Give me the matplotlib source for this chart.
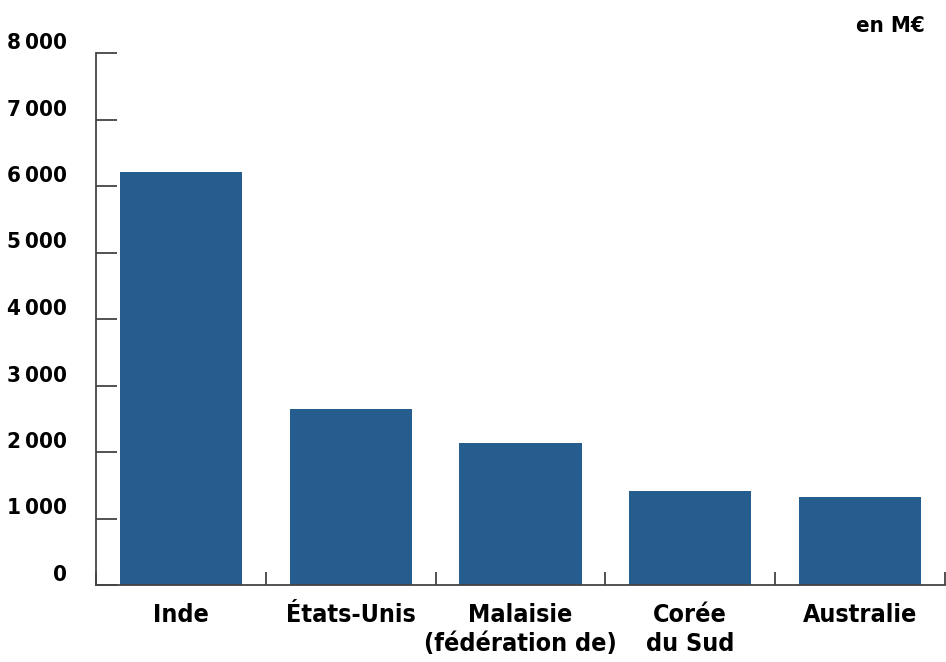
import matplotlib
matplotlib.use("Agg")
import matplotlib.pyplot as plt
from matplotlib import font_manager

countries = ["Inde", "États-Unis", "Malaisie\n(fédération de)", "Corée\ndu Sud", "Australie"]
values = [6210, 2650, 2135, 1410, 1320]
yticks = [0, 1000, 2000, 3000, 4000, 5000, 6000, 7000, 8000]
ytick_labels = ["0", "1\u2009000", "2\u2009000", "3\u2009000", "4\u2009000",
                "5\u2009000", "6\u2009000", "7\u2009000", "8\u2009000"]

bar_color = "#255E8E"
line_color = "#444444"

# look for a condensed bold face among the installed fonts
narrow = None
for f in font_manager.fontManager.ttflist:
    if f.stretch in ("condensed", "semi-condensed", "extra-condensed") and f.weight in (600, 700, "bold"):
        narrow = f.fname
        break

if narrow:
    fp = font_manager.FontProperties(fname=narrow)
    fs_y, fs_x = 16, 18
else:
    fp = font_manager.FontProperties(family="DejaVu Sans", weight="bold")
    fs_y, fs_x = 14, 16


def main():
    fig = plt.figure(figsize=(9.46, 6.62), dpi=100)
    ax = fig.add_axes([96 / 946, 77 / 662, 849 / 946, 532 / 662])

    x = list(range(len(countries)))
    ax.bar(x, values, width=0.72, color=bar_color, zorder=1)

    ax.set_xlim(-0.5, len(countries) - 0.5)
    ax.set_ylim(0, 8000)

    for side in ("top", "right"):
        ax.spines[side].set_visible(False)
    for side in ("left", "bottom"):
        ax.spines[side].set_color(line_color)
        ax.spines[side].set_linewidth(1.3)
        ax.spines[side].set_zorder(3)

    ax.set_yticks(yticks)
    ax.set_yticklabels(ytick_labels, fontproperties=fp, fontsize=fs_y)
    for lab in ax.get_yticklabels():
        lab.set_va("bottom")
    ax.tick_params(axis="y", direction="in", length=15, width=1.3,
                   color=line_color, pad=21)

    ax.set_xticks(x)
    ax.set_xticklabels(countries, fontproperties=fp, fontsize=fs_x, linespacing=1.25)
    ax.tick_params(axis="x", which="major", length=0, pad=13)
    ax.set_xticks([i + 0.5 for i in range(-1, len(countries))], minor=True)
    ax.tick_params(axis="x", which="minor", direction="in", length=9.5,
                   width=1.3, color=line_color)

    fig.text(925 / 946, 1 - 26 / 662, "en M€", ha="right", va="center",
             fontproperties=fp, fontsize=fs_y)

    fig.savefig("out.png", dpi=100)


if __name__ == "__main__":
    main()
